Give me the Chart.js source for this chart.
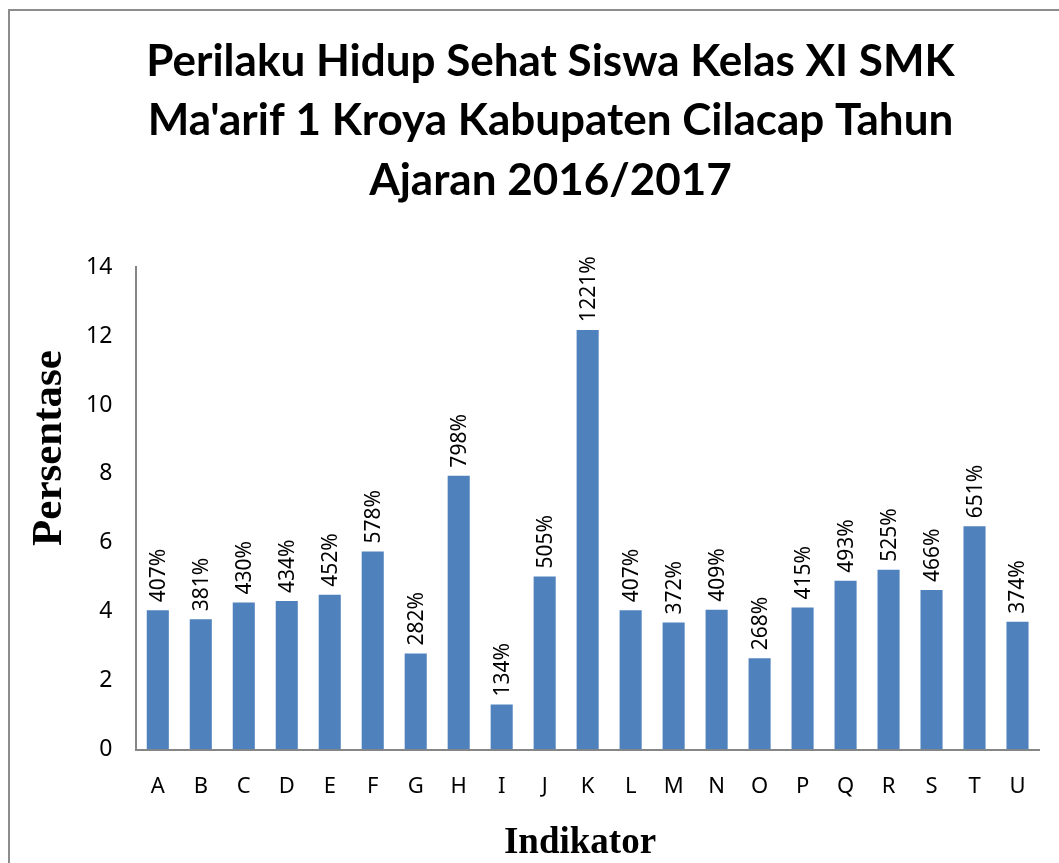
<!DOCTYPE html>
<html>
<head>
<meta charset="utf-8">
<script src="https://cdn.jsdelivr.net/npm/chart.js@4/dist/chart.umd.min.js"></script>
<style>
  html, body { margin: 0; padding: 0; background: #fff; }
  #wrap { width: 1059px; height: 863px; }
</style>
</head>
<body>
<div id="wrap"><canvas id="perilakuChart" width="1059" height="863"></canvas></div>
<script>
// Data
const indikator = ['A', 'B', 'C', 'D', 'E', 'F', 'G', 'H', 'I', 'J', 'K', 'L', 'M', 'N', 'O', 'P', 'Q', 'R', 'S', 'T', 'U'];
const persentase = [4.07, 3.81, 4.30, 4.34, 4.52, 5.78, 2.82, 7.98, 1.34, 5.05, 12.21, 4.07, 3.72, 4.09, 2.68, 4.15, 4.93, 5.25, 4.66, 6.51, 3.74];
const yTicks = [0, 2, 4, 6, 8, 10, 12, 14];
const titleLines = ['Perilaku Hidup Sehat Siswa Kelas XI SMK', "Ma'arif 1 Kroya Kabupaten Cilacap Tahun", 'Ajaran 2016/2017'];
const xTitle = 'Indikator';
const yTitle = 'Persentase';

const sansFamily = '"Noto Sans", "Open Sans", sans-serif';

// Outer frame plus both axis titles (placed like the original Excel chart)
const framePlugin = {
    id: 'frame',
    beforeDraw(chart) {
        const ctx = chart.ctx;
        ctx.save();
        ctx.fillStyle = '#fff';
        ctx.fillRect(0, 0, chart.width, chart.height);
        ctx.strokeStyle = '#8c8c8c';
        ctx.lineWidth = 2;
        ctx.strokeRect(9, 10, 1100, 900);
        ctx.restore();
    },
    afterDraw(chart) {
        const ctx = chart.ctx;
        ctx.save();
        ctx.fillStyle = '#000';
        ctx.textAlign = 'center';
        ctx.textBaseline = 'middle';
        ctx.font = 'bold 37px "Liberation Serif", "Times New Roman", serif';
        ctx.fillText(xTitle, 580, 843);
        ctx.translate(50, 448);
        ctx.rotate(-Math.PI / 2);
        ctx.font = 'bold 43px "Liberation Serif", "Times New Roman", serif';
        ctx.fillText(yTitle, 0, 0);
        ctx.restore();
    }
};

// Rotated value labels above each bar, e.g. "407%"
const valueLabels = {
    id: 'valueLabels',
    afterDatasetsDraw(chart) {
        const ctx = chart.ctx;
        const meta = chart.getDatasetMeta(0);
        ctx.save();
        ctx.font = '21px ' + sansFamily;
        ctx.fillStyle = '#000';
        ctx.textAlign = 'left';
        ctx.textBaseline = 'middle';
        meta.data.forEach((bar, i) => {
            ctx.save();
            ctx.translate(bar.x + 1, bar.y - 7);
            ctx.rotate(-Math.PI / 2);
            ctx.fillText(Math.round(persentase[i] * 100) + '%', 0, 0);
            ctx.restore();
        });
        ctx.restore();
    }
};

const config = {
    type: 'bar',
    data: {
        labels: indikator,
        datasets: [{
            data: persentase,
            backgroundColor: '#4f81bd',
            borderColor: 'rgba(255,255,255,0.35)',
            borderWidth: 1,
            barPercentage: 0.56,
            categoryPercentage: 1.0
        }]
    },
    options: {
        responsive: false,
        animation: false,
        layout: { padding: { left: 62, right: 20, top: 32, bottom: 39 } },
        plugins: {
            legend: { display: false },
            tooltip: { enabled: false },
            title: {
                display: true,
                text: titleLines,
                color: '#000',
                font: { family: 'Lato, sans-serif', size: 44, weight: 'bold', lineHeight: 1.35 },
                padding: { top: 0, bottom: 57 }
            }
        },
        scales: {
            x: {
                grid: { display: false, drawTicks: false },
                border: { color: '#868686', width: 2 },
                ticks: { color: '#000', font: { family: sansFamily, size: 22 }, padding: 24, maxRotation: 0 }
            },
            y: {
                min: 0,
                max: 14,
                afterBuildTicks(scale) { scale.ticks = yTicks.map(v => ({ value: v })); },
                grid: { display: false, drawTicks: false },
                border: { color: '#868686', width: 2 },
                ticks: { color: '#000', font: { family: sansFamily, size: 23 }, padding: 24 }
            }
        }
    },
    plugins: [framePlugin, valueLabels]
};

const chartContext = document.getElementById('perilakuChart').getContext('2d');
const perilakuChart = new Chart(chartContext, config);
</script>
</body>
</html>
